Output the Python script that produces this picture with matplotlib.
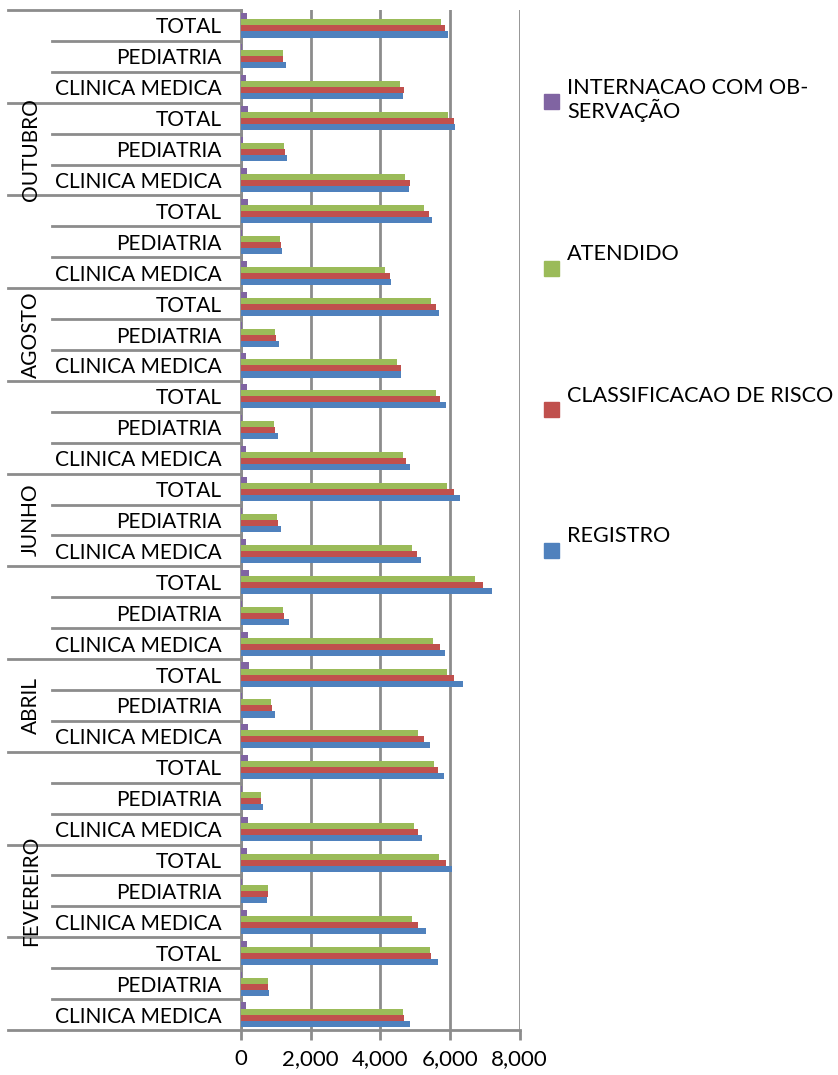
import matplotlib
matplotlib.use("Agg")
import matplotlib.pyplot as plt
from matplotlib.patches import Rectangle
import numpy as np

plt.rcParams['font.family'] = ['Lato', 'DejaVu Sans']

# meses de baixo para cima
meses = ["JANEIRO", "FEVEREIRO", "MARÇO", "ABRIL", "MAIO", "JUNHO",
         "JULHO", "AGOSTO", "SETEMBRO", "OUTUBRO", "NOVEMBRO"]
setores = ["CLINICA MEDICA", "PEDIATRIA", "TOTAL"]

# valores por mes: [CM, PED, TOTAL]
registro = [4844, 815, 5650, 5304, 758, 6053, 5189, 643, 5822,
            5420, 988, 6369, 5851, 1391, 7204, 5161, 1161, 6283,
            4844, 1074, 5880, 4585, 1103, 5679, 4297, 1189, 5477,
            4815, 1333, 6139, 4642, 1305, 5937]
classificacao = [4671, 787, 5448, 5074, 787, 5880, 5074, 585, 5650,
                 5247, 902, 6110, 5707, 1247, 6945, 5045, 1074, 6110,
                 4729, 988, 5707, 4585, 1017, 5592, 4268, 1161, 5391,
                 4844, 1276, 6110, 4671, 1218, 5851]
atendido = [4642, 787, 5420, 4901, 787, 5679, 4959, 585, 5535,
            5074, 873, 5909, 5506, 1218, 6714, 4901, 1046, 5909,
            4642, 959, 5592, 4470, 988, 5448, 4125, 1132, 5247,
            4700, 1247, 5937, 4556, 1218, 5736]
internacao = [144, 25, 173, 173, 25, 173, 211, 25, 211,
              211, 25, 240, 211, 25, 240, 144, 25, 173,
              144, 25, 173, 144, 25, 173, 173, 25, 211,
              173, 60, 211, 144, 25, 173]

series = [("REGISTRO", registro, "#4F81BD"),
          ("CLASSIFICACAO DE RISCO", classificacao, "#C0504D"),
          ("ATENDIDO", atendido, "#9BBB59"),
          ("INTERNACAO COM OB-\nSERVAÇÃO", internacao, "#8064A2")]

W, H = 838, 1075
fig = plt.figure(figsize=(W / 100, H / 100), dpi=100)
ax = fig.add_axes([241 / W, 1 - 1030 / H, 278.5 / W, 1020 / H])

n = len(meses) * 3
y = np.arange(n)
h = 0.195
for k, (nome, vals, cor) in enumerate(series):
    ax.barh(y + (k - 1.5) * h, vals, height=h, color=cor, zorder=3)

grid_c = "#8c8c8c"
ax.set_xlim(0, 8000)
ax.set_ylim(-0.5, n - 0.5)
ax.set_xticks([0, 2000, 4000, 6000, 8000])
ax.set_xticklabels(["{:,}".format(v) for v in [0, 2000, 4000, 6000, 8000]], fontsize=16)
ax.xaxis.grid(True, color=grid_c, linewidth=2, zorder=0)
ax.tick_params(axis='x', length=7.5, width=2, color=grid_c, pad=6.5)
ax.set_yticks(y)
ax.set_yticklabels(setores * len(meses), fontsize=15)
ax.tick_params(axis='y', length=0, pad=13.7)
for s in ["top", "right"]:
    ax.spines[s].set_visible(False)
ax.spines["left"].set_color(grid_c)
ax.spines["left"].set_linewidth(2)
ax.spines["bottom"].set_color(grid_c)
ax.spines["bottom"].set_linewidth(2)

trans = ax.get_yaxis_transform()
x_cat = (52 - 241) / 278.5
x_mes = (8 - 241) / 278.5
for k in range(n + 1):
    x0 = x_mes if k % 3 == 0 else x_cat
    ax.plot([x0, 0], [k - 0.5, k - 0.5], color=grid_c, linewidth=2,
            transform=trans, clip_on=False)

for i, m in enumerate(meses):
    if i % 2 == 1:
        ax.text((31 - 241) / 278.5, i * 3 + 1, m, rotation=90, fontsize=15,
                ha="center", va="center", transform=trans)

# legenda
leg_y = [550, 409, 268.5, 101]
txt_y = [536, 395.5, 254, 100]
for (nome, vals, cor), my, ty in zip(series, leg_y, txt_y):
    fig.patches.append(Rectangle(((551 - 7.5) / W, 1 - (my + 7.5) / H), 15 / W, 15 / H,
                                 transform=fig.transFigure, color=cor))
    fig.text(567 / W, 1 - ty / H, nome, fontsize=15.6, va="center", ha="left",
             linespacing=1.05)

fig.savefig("out.png", dpi=100)
